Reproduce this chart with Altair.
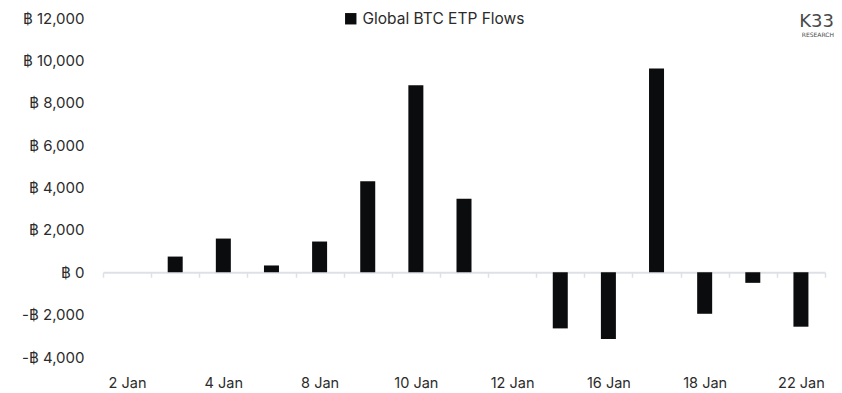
import altair as alt
import pandas as pd

dates = ["2 Jan", "3 Jan", "4 Jan", "5 Jan", "8 Jan", "9 Jan", "10 Jan", "11 Jan",
         "12 Jan", "15 Jan", "16 Jan", "17 Jan", "18 Jan", "19 Jan", "22 Jan"]
flows = [0, 740, 1590, 320, 1450, 4290, 8830, 3470,
         0, -2650, -3150, 9620, -1960, -500, -2570]
shown_labels = ["2 Jan", "4 Jan", "8 Jan", "10 Jan", "12 Jan", "16 Jan", "18 Jan", "22 Jan"]
series = "Global BTC ETP Flows"

df = pd.DataFrame({"date": dates, "flow": flows, "series": [series] * len(dates)})

FONT = "Inter"
TXT = "#2b2b2b"
AX = "#dde1e6"

label_test = " || ".join([f"datum.value == '{d}'" for d in shown_labels])

bars = alt.Chart(df).mark_bar(size=15, color="#0b0c0e").encode(
    x=alt.X("date:N", sort=dates, title=None,
            scale=alt.Scale(paddingInner=0, paddingOuter=0),
            axis=alt.Axis(orient="bottom", offset=-84.75, labelAngle=0,
                          tickBand="extent", domainColor=AX, domainWidth=2,
                          tickColor=AX, tickWidth=1.5, tickSize=5,
                          labelPadding=99, labelFont=FONT, labelFontSize=14.5,
                          labelColor=TXT,
                          labelExpr=f"({label_test}) ? datum.value : ''")),
    y=alt.Y("flow:Q", title=None,
            scale=alt.Scale(domain=[-4000, 12000], nice=False, zero=False),
            axis=alt.Axis(values=[-4000, -2000, 0, 2000, 4000, 6000, 8000, 10000, 12000],
                          grid=False, domain=False, ticks=False, labelPadding=19,
                          labelFont=FONT, labelFontSize=15, labelColor=TXT,
                          labelExpr="(datum.value < 0 ? '-' : '') + '฿ ' + format(abs(datum.value), ',')")),
    color=alt.Color("series:N", scale=alt.Scale(range=["#0b0c0e"]),
                    legend=alt.Legend(title=None, orient="none", legendX=240, legendY=-7,
                                      symbolType="square", symbolSize=130, labelLimit=300,
                                      labelFont=FONT, labelFontSize=15.5, labelColor=TXT,
                                      symbolStrokeWidth=0)),
)

logo = alt.Chart(pd.DataFrame({"t": ["K33"]})).mark_text(
    font="DejaVu Sans", fontSize=18, color="#4a4a4a", align="right",
    baseline="alphabetic"
).encode(text="t:N", x=alt.value(731), y=alt.value(9))

logo2 = alt.Chart(pd.DataFrame({"t": ["RESEARCH"]})).mark_text(
    font="DejaVu Sans", fontSize=6, color="#4a4a4a", align="right", baseline="top"
).encode(text="t:N", x=alt.value(731), y=alt.value(14))

chart = alt.layer(bars, logo, logo2).properties(
    width=722, height=339,
    padding={"left": 103, "top": 18, "right": 17, "bottom": 36},
    autosize=alt.AutoSizeParams(type="none"),
).configure_view(stroke=None).configure_axis(labelFont=FONT)

chart.save("out.html", embed_options={"renderer": "svg", "actions": False})
